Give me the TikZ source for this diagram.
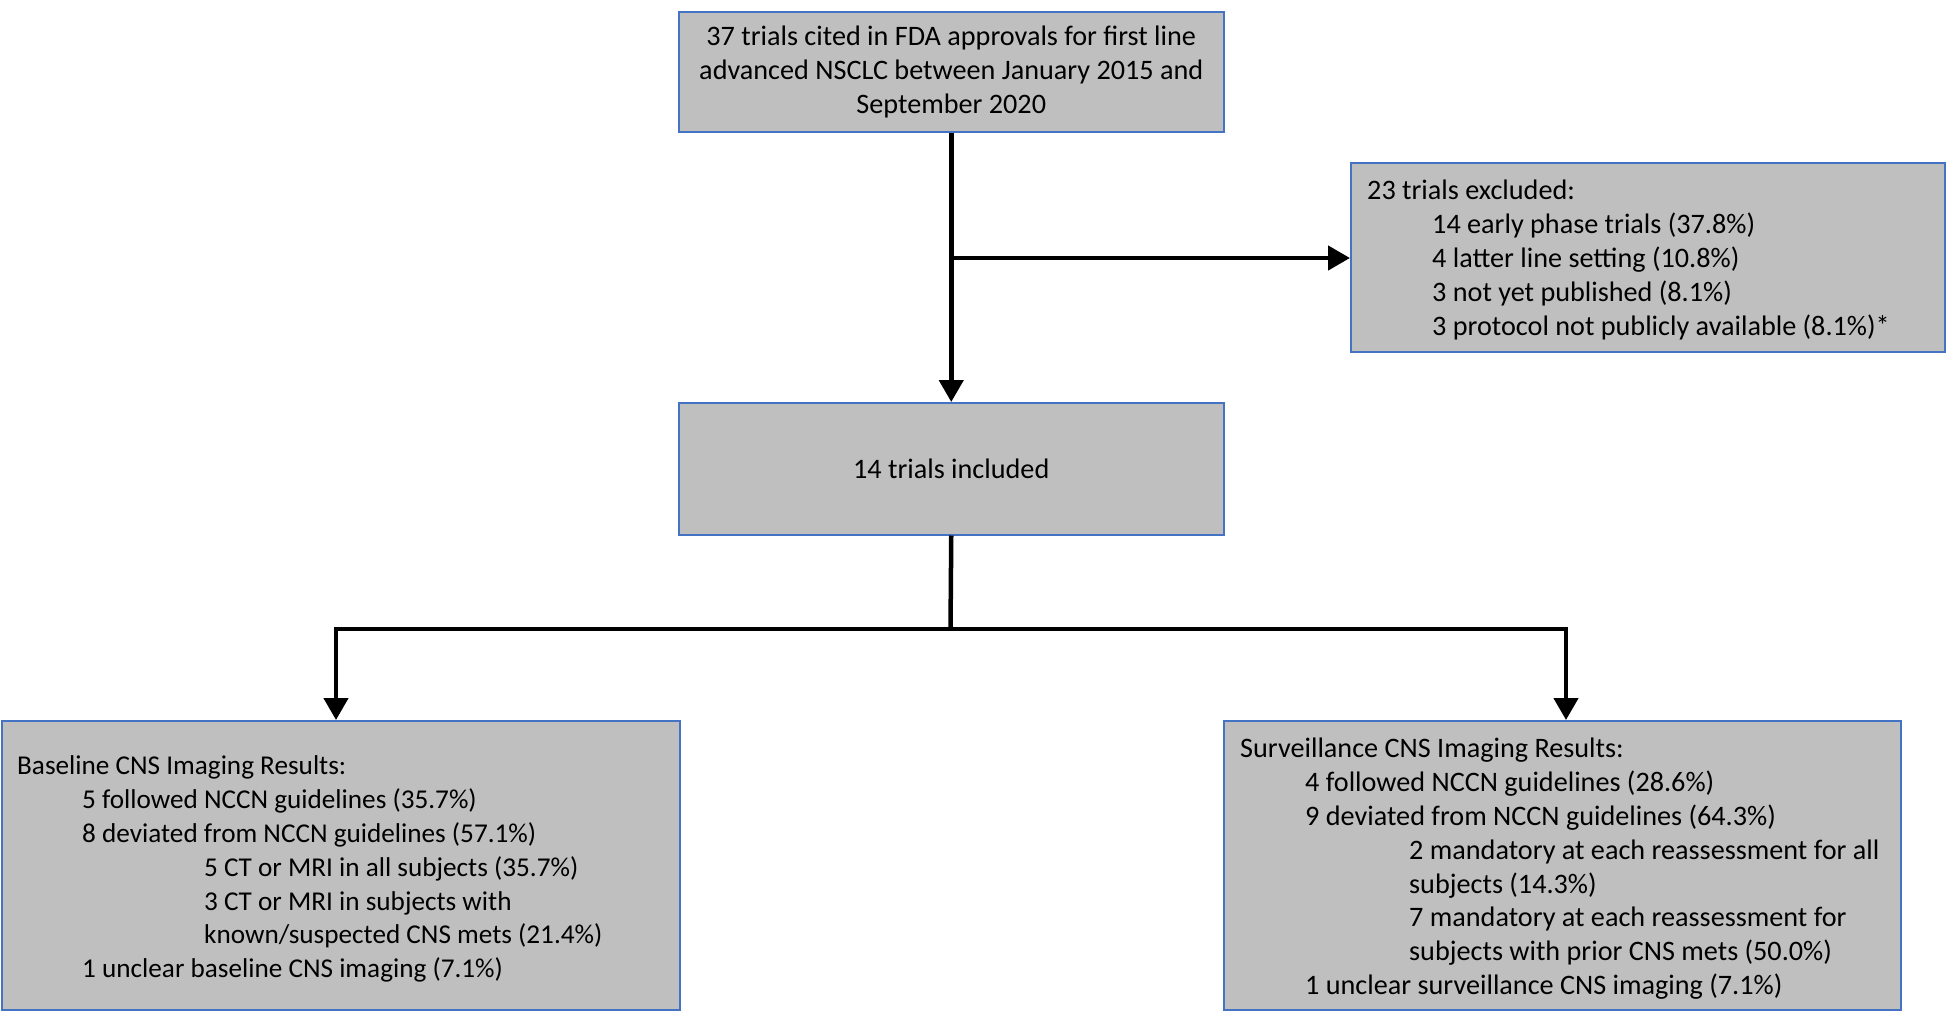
\documentclass[tikz,border=0pt]{standalone}
\usepackage{fontspec}
\setmainfont{Carlito}
\usetikzlibrary{arrows.meta}
\definecolor{boxfill}{HTML}{BFBFBF}
\definecolor{boxline}{HTML}{4472C4}
\newcommand{\ia}{\hspace*{65pt}\strut}
\tikzset{
 box/.style={draw=boxline, fill=boxfill, line width=1.5pt, inner sep=0pt, anchor=north west, align=center, font=\fontsize{28.2}{33.8}\selectfont},
 txt/.style={anchor=north west, inner sep=0pt, align=left, font=\fontsize{28.2}{33.8}\selectfont},
 conn/.style={line width=4.5pt, line join=miter, -{Triangle[width=24pt,length=22pt]}},
 plainline/.style={line width=4.5pt, line join=miter}
}
\begin{document}
\begin{tikzpicture}[x=1pt,y=-1pt]
\useasboundingbox (0,0) rectangle (1952,1012);
\fill[white] (0,0) rectangle (1952,1012);
\node[box, minimum width=545pt, minimum height=120pt] (top) at (678,11)
 {37 trials cited in FDA approvals for first line\\advanced NSCLC between January 2015 and\\September 2020};
\node[box, minimum width=545pt, minimum height=132pt] (mid) at (678,402) {14 trials included};
\node[box, minimum width=594pt, minimum height=189pt] (excl) at (1350,162) {};
\node[box, minimum width=678pt, minimum height=289pt] (left) at (1,720) {};
\node[box, minimum width=677pt, minimum height=289pt] (right) at (1223,720) {};
\node[txt] (excltext) at (1367,176) {\strut 23 trials excluded:\\
\ia 14 early phase trials (37.8\%)\\
\ia 4 latter line setting (10.8\%)\\
\ia 3 not yet published (8.1\%)\\
\ia 3 protocol not publicly available (8.1\%)*};
\node[txt, font=\fontsize{27.2}{33.8}\selectfont] (lefttext) at (17,751) {\strut Baseline CNS Imaging Results:\\
\ia 5 followed NCCN guidelines (35.7\%)\\
\ia 8 deviated from NCCN guidelines (57.1\%)\\
\hspace*{187pt}\strut 5 CT or MRI in all subjects (35.7\%)\\
\hspace*{187pt}\strut 3 CT or MRI in subjects with\\
\hspace*{187pt}\strut known/suspected CNS mets (21.4\%)\\
\ia 1 unclear baseline CNS imaging (7.1\%)};
\node[txt] (righttext) at (1240,734) {\strut Surveillance CNS Imaging Results:\\
\ia 4 followed NCCN guidelines (28.6\%)\\
\ia 9 deviated from NCCN guidelines (64.3\%)\\
\hspace*{169pt}\strut 2 mandatory at each reassessment for all\\
\hspace*{169pt}\strut subjects (14.3\%)\\
\hspace*{169pt}\strut 7 mandatory at each reassessment for\\
\hspace*{169pt}\strut subjects with prior CNS mets (50.0\%)\\
\ia 1 unclear surveillance CNS imaging (7.1\%)};
\coordinate (split) at (950.5,258);
\coordinate (hub) at (950.5,629);
\coordinate (lt) at (336,629);
\coordinate (rt) at (1566,629);
\draw[conn] (top.south) -- (mid.north);
\draw[conn] (split) -- (split -| excl.west);
\draw[plainline] (mid.south) -- (hub);
\draw[conn] (hub) -- (lt) -- (lt |- left.north);
\draw[conn] (hub) -- (rt) -- (rt |- right.north);
\end{tikzpicture}
\end{document}
